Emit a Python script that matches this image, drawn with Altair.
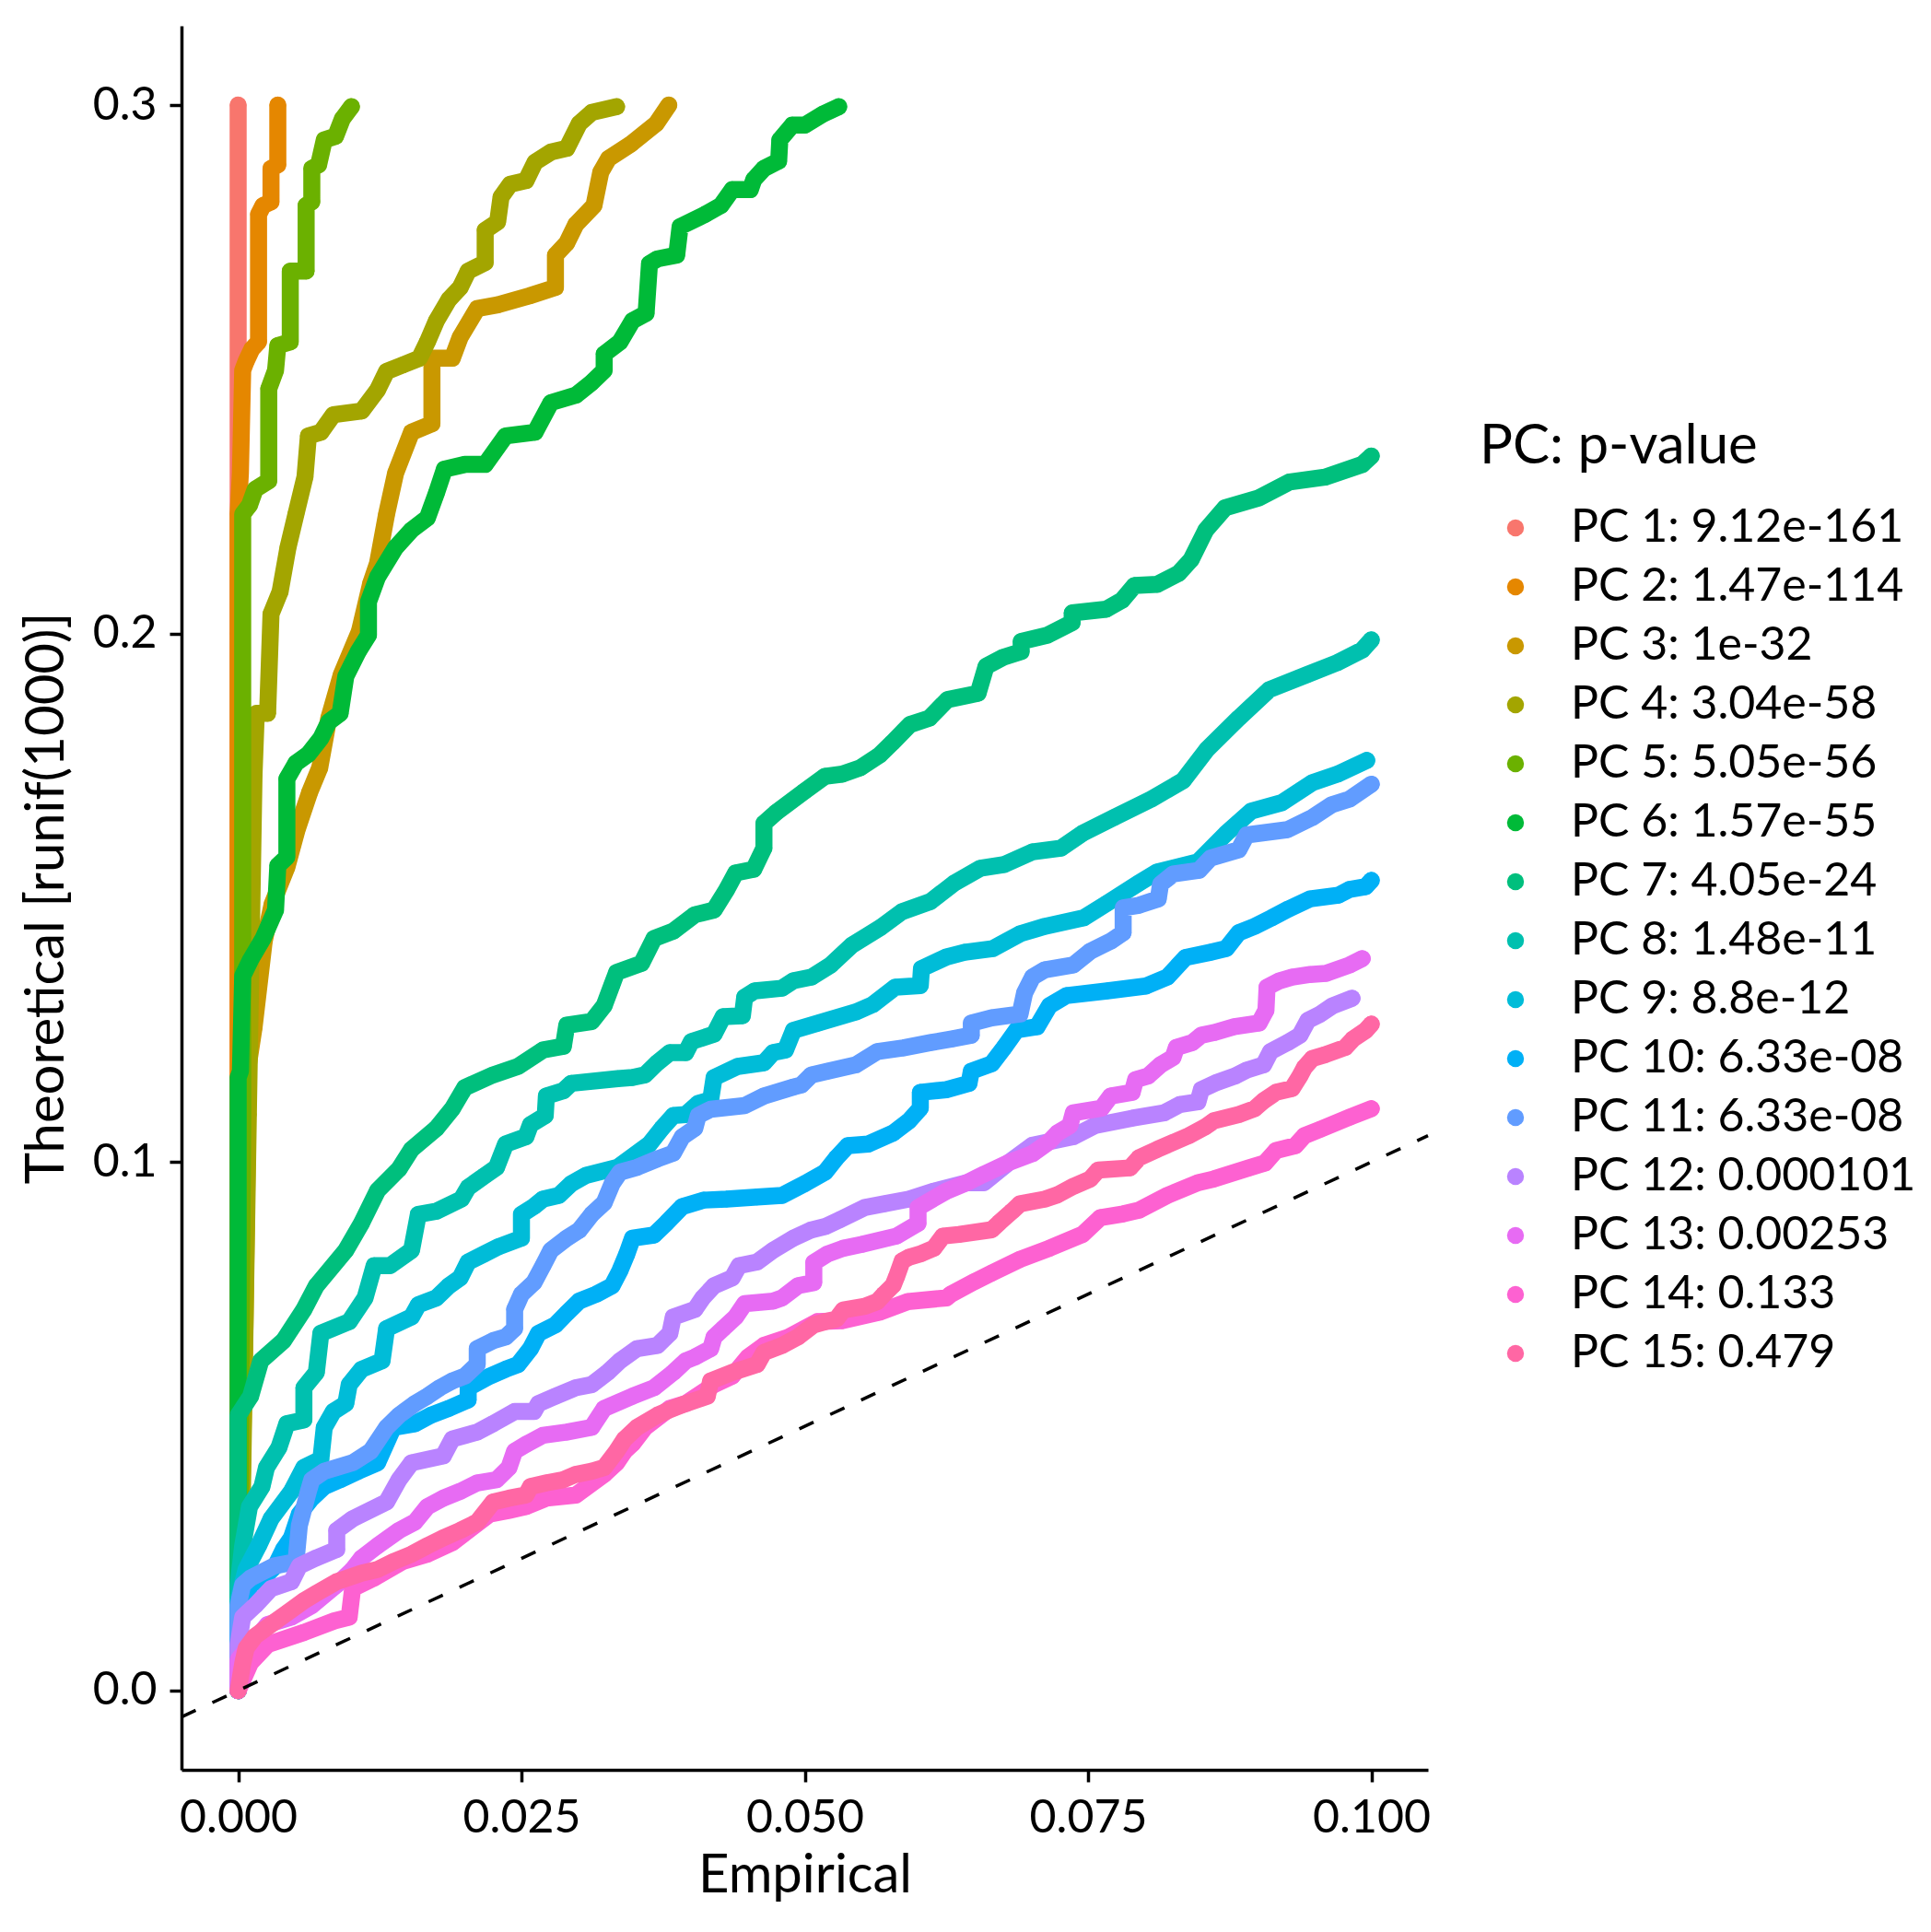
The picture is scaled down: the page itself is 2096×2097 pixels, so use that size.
import pandas as pd
import altair as alt

# legend entries and ggplot hue colours
pc_labels = [
    "PC 1: 9.12e-161", "PC 2: 1.47e-114", "PC 3: 1e-32", "PC 4: 3.04e-58",
    "PC 5: 5.05e-56", "PC 6: 1.57e-55", "PC 7: 4.05e-24", "PC 8: 1.48e-11",
    "PC 9: 8.8e-12", "PC 10: 6.33e-08", "PC 11: 6.33e-08", "PC 12: 0.000101",
    "PC 13: 0.00253", "PC 14: 0.133", "PC 15: 0.479",
]
pc_colors = [
    "#F8766D", "#E58700", "#C99800", "#A3A500", "#6BB100", "#00BA38", "#00BF7D",
    "#00C0AF", "#00BCD8", "#00B0F6", "#619CFF", "#B983FF", "#E76BF3", "#FD61D1",
    "#FF67A4",
]

x_ticks = [0.0, 0.025, 0.05, 0.075, 0.1]
y_ticks = [0.0, 0.1, 0.2, 0.3]
x_domain = [-0.005, 0.105]
y_domain = [-0.015, 0.315]

# (empirical, theoretical) pairs
pc1 = [(0.0, 0.0), (0.0, 0.1), (0.0, 0.2), (0.0, 0.3)]
pc2 = [(0.0, 0.0), (0.0, 0.2226), (0.0002, 0.2304), (0.0004, 0.2498), (0.0007, 0.2515),
       (0.0012, 0.2538), (0.0018, 0.2552), (0.0018, 0.2793), (0.0022, 0.2810),
       (0.0029, 0.2817), (0.0029, 0.2880), (0.0035, 0.2887), (0.0035, 0.3)]
pc3 = [(0.0, 0.0), (0.0006, 0.0692), (0.0009, 0.1184), (0.0014, 0.1254), (0.0023, 0.1418),
       (0.0030, 0.1488), (0.0043, 0.1558), (0.0052, 0.1629), (0.0063, 0.1699),
       (0.0072, 0.1746), (0.0080, 0.1840), (0.0091, 0.1922), (0.0107, 0.2004),
       (0.0117, 0.2095), (0.0123, 0.2133), (0.0131, 0.2226), (0.0139, 0.2304),
       (0.0153, 0.2381), (0.0171, 0.2397), (0.0171, 0.2521), (0.0189, 0.2521),
       (0.0196, 0.2561), (0.0211, 0.2615), (0.0229, 0.2622), (0.0257, 0.2639),
       (0.0280, 0.2655), (0.0280, 0.2716), (0.0290, 0.2739), (0.0298, 0.2774),
       (0.0314, 0.2810), (0.0320, 0.2873), (0.0327, 0.2899), (0.0347, 0.2927),
       (0.0369, 0.2965), (0.0380, 0.3)]
pc4 = [(0.0, 0.0), (0.0003, 0.0270), (0.0009, 0.1090), (0.0014, 0.1732), (0.0016, 0.1849),
       (0.0026, 0.1849), (0.0029, 0.2037), (0.0037, 0.2079), (0.0044, 0.2163),
       (0.0051, 0.2226), (0.0059, 0.2297), (0.0062, 0.2374), (0.0073, 0.2381),
       (0.0084, 0.2414), (0.0109, 0.2421), (0.0123, 0.2461), (0.0131, 0.2496),
       (0.0145, 0.2508), (0.0160, 0.2521), (0.0167, 0.2552), (0.0175, 0.2592),
       (0.0186, 0.2632), (0.0196, 0.2655), (0.0203, 0.2686), (0.0218, 0.2702),
       (0.0218, 0.2763), (0.0229, 0.2779), (0.0232, 0.2826), (0.0240, 0.2850),
       (0.0254, 0.2857), (0.0262, 0.2892), (0.0276, 0.2911), (0.0290, 0.2918),
       (0.0301, 0.2965), (0.0312, 0.2986), (0.0334, 0.2997)]
pc5 = [(0.0, 0.0), (0.0001, 0.0153), (0.0004, 0.1090), (0.0004, 0.2226), (0.0010, 0.2243),
       (0.0015, 0.2273), (0.0027, 0.2289), (0.0027, 0.2463), (0.0033, 0.2498),
       (0.0035, 0.2545), (0.0046, 0.2552), (0.0046, 0.2686), (0.0060, 0.2686),
       (0.0060, 0.2810), (0.0065, 0.2817), (0.0065, 0.2880), (0.0071, 0.2887),
       (0.0076, 0.2934), (0.0086, 0.2941), (0.0092, 0.2974), (0.0100, 0.2997)]
pc6 = [(0.0, 0.0), (0.0, 0.1160), (0.0002, 0.1172), (0.0004, 0.1352), (0.0011, 0.1383),
       (0.0022, 0.1423), (0.0033, 0.1477), (0.0035, 0.1561), (0.0043, 0.1577),
       (0.0043, 0.1725), (0.0051, 0.1755), (0.0062, 0.1772), (0.0073, 0.1802),
       (0.0080, 0.1833), (0.0090, 0.1849), (0.0095, 0.1919), (0.0106, 0.1966),
       (0.0115, 0.1997), (0.0115, 0.2060), (0.0123, 0.2107), (0.0139, 0.2163),
       (0.0153, 0.2196), (0.0167, 0.2219), (0.0175, 0.2266), (0.0182, 0.2311),
       (0.0200, 0.2320), (0.0218, 0.2320), (0.0236, 0.2374), (0.0262, 0.2381),
       (0.0276, 0.2437), (0.0298, 0.2451), (0.0312, 0.2475), (0.0323, 0.2498),
       (0.0323, 0.2529), (0.0337, 0.2552), (0.0348, 0.2592), (0.0360, 0.2606),
       (0.0363, 0.2700), (0.0370, 0.2709), (0.0387, 0.2716), (0.0390, 0.2770),
       (0.0412, 0.2793), (0.0426, 0.2810), (0.0436, 0.2840), (0.0452, 0.2840),
       (0.0455, 0.2859), (0.0464, 0.2880), (0.0477, 0.2894), (0.0478, 0.2934),
       (0.0489, 0.2962), (0.0500, 0.2962), (0.0516, 0.2983), (0.0530, 0.2997)]
pc7 = [(0.0, 0.0), (0.0, 0.0521), (0.0004, 0.0534), (0.0011, 0.0557), (0.0020, 0.0624),
       (0.0040, 0.0662), (0.0058, 0.0721), (0.0069, 0.0766), (0.0095, 0.0833),
       (0.0109, 0.0885), (0.0123, 0.0946), (0.0142, 0.0987), (0.0153, 0.1024),
       (0.0175, 0.1064), (0.0189, 0.1101), (0.0200, 0.1141), (0.0225, 0.1165),
       (0.0247, 0.1181), (0.0269, 0.1212), (0.0287, 0.1219), (0.0290, 0.1259),
       (0.0312, 0.1266), (0.0323, 0.1296), (0.0330, 0.1336), (0.0334, 0.1359),
       (0.0356, 0.1376), (0.0367, 0.1423), (0.0384, 0.1437), (0.0403, 0.1468),
       (0.0420, 0.1477), (0.0431, 0.1515), (0.0439, 0.1547), (0.0455, 0.1554),
       (0.0464, 0.1594), (0.0464, 0.1641), (0.0475, 0.1662), (0.0500, 0.1702),
       (0.0518, 0.1730), (0.0533, 0.1734), (0.0549, 0.1746), (0.0566, 0.1770),
       (0.0577, 0.1793), (0.0593, 0.1828), (0.0610, 0.1840), (0.0626, 0.1875),
       (0.0653, 0.1887), (0.0660, 0.1938), (0.0675, 0.1955), (0.0691, 0.1966),
       (0.0691, 0.1985), (0.0714, 0.1997), (0.0736, 0.2021), (0.0736, 0.2039),
       (0.0766, 0.2046), (0.0780, 0.2063), (0.0791, 0.2091), (0.0811, 0.2093),
       (0.0830, 0.2114), (0.0841, 0.2140), (0.0854, 0.2196), (0.0871, 0.2238),
       (0.0901, 0.2257), (0.0928, 0.2287), (0.0959, 0.2296), (0.0992, 0.2320),
       (0.1000, 0.2336)]
pc8 = [(0.0, 0.0), (0.0, 0.0200), (0.0004, 0.0274), (0.0010, 0.0348), (0.0021, 0.0386),
       (0.0025, 0.0422), (0.0036, 0.0460), (0.0043, 0.0505), (0.0058, 0.0512),
       (0.0058, 0.0573), (0.0069, 0.0602), (0.0073, 0.0676), (0.0098, 0.0698),
       (0.0112, 0.0743), (0.0120, 0.0804), (0.0134, 0.0804), (0.0153, 0.0833),
       (0.0159, 0.0901), (0.0175, 0.0907), (0.0197, 0.0930), (0.0203, 0.0952),
       (0.0218, 0.0975), (0.0228, 0.0990), (0.0236, 0.1034), (0.0254, 0.1048),
       (0.0258, 0.1071), (0.0271, 0.1088), (0.0272, 0.1125), (0.0287, 0.1135),
       (0.0294, 0.1149), (0.0335, 0.1158), (0.0348, 0.1160), (0.0359, 0.1165),
       (0.0370, 0.1188), (0.0381, 0.1207), (0.0395, 0.1207), (0.0400, 0.1228),
       (0.0420, 0.1242), (0.0428, 0.1275), (0.0445, 0.1277), (0.0447, 0.1312),
       (0.0456, 0.1324), (0.0480, 0.1329), (0.0490, 0.1343), (0.0506, 0.1350),
       (0.0523, 0.1373), (0.0542, 0.1411), (0.0567, 0.1444), (0.0586, 0.1474),
       (0.0611, 0.1493), (0.0632, 0.1528), (0.0655, 0.1556), (0.0676, 0.1563),
       (0.0701, 0.1587), (0.0726, 0.1594), (0.0745, 0.1622), (0.0773, 0.1652),
       (0.0806, 0.1687), (0.0834, 0.1722), (0.0855, 0.1781), (0.0883, 0.1840),
       (0.0910, 0.1894), (0.0943, 0.1922), (0.0970, 0.1945), (0.0992, 0.1969),
       (0.1000, 0.1988)]
pc9 = [(0.0, 0.0), (0.0, 0.0170), (0.0007, 0.0229), (0.0018, 0.0274), (0.0029, 0.0325),
       (0.0047, 0.0377), (0.0058, 0.0422), (0.0073, 0.0438), (0.0076, 0.0498),
       (0.0084, 0.0528), (0.0095, 0.0543), (0.0098, 0.0579), (0.0109, 0.0608),
       (0.0127, 0.0624), (0.0131, 0.0685), (0.0153, 0.0707), (0.0159, 0.0730),
       (0.0175, 0.0743), (0.0186, 0.0766), (0.0196, 0.0781), (0.0203, 0.0811),
       (0.0217, 0.0826), (0.0230, 0.0840), (0.0250, 0.0856), (0.0250, 0.0901),
       (0.0261, 0.0916), (0.0269, 0.0930), (0.0283, 0.0937), (0.0294, 0.0959),
       (0.0307, 0.0975), (0.0335, 0.0990), (0.0363, 0.1034), (0.0374, 0.1064),
       (0.0384, 0.1088), (0.0395, 0.1090), (0.0406, 0.1111), (0.0417, 0.1118),
       (0.0420, 0.1160), (0.0441, 0.1181), (0.0464, 0.1188), (0.0472, 0.1207),
       (0.0483, 0.1212), (0.0490, 0.1249), (0.0512, 0.1263), (0.0545, 0.1284),
       (0.0560, 0.1298), (0.0580, 0.1331), (0.0602, 0.1334), (0.0603, 0.1366),
       (0.0625, 0.1388), (0.0641, 0.1397), (0.0666, 0.1404), (0.0690, 0.1432),
       (0.0712, 0.1446), (0.0746, 0.1462), (0.0767, 0.1490), (0.0795, 0.1528),
       (0.0811, 0.1549), (0.0847, 0.1568), (0.0872, 0.1622), (0.0894, 0.1664),
       (0.0921, 0.1680), (0.0948, 0.1718), (0.0970, 0.1734), (0.0996, 0.1760)]
pc10 = [(0.0, 0.0), (0.0, 0.0125), (0.0004, 0.0161), (0.0011, 0.0200), (0.0022, 0.0213),
        (0.0033, 0.0236), (0.0040, 0.0267), (0.0047, 0.0289), (0.0054, 0.0334),
        (0.0065, 0.0364), (0.0076, 0.0386), (0.0090, 0.0399), (0.0106, 0.0415),
        (0.0123, 0.0431), (0.0137, 0.0498), (0.0156, 0.0505), (0.0170, 0.0521),
        (0.0186, 0.0534), (0.0203, 0.0550), (0.0203, 0.0573), (0.0222, 0.0595),
        (0.0236, 0.0608), (0.0247, 0.0617), (0.0258, 0.0647), (0.0265, 0.0676),
        (0.0280, 0.0692), (0.0290, 0.0714), (0.0301, 0.0737), (0.0316, 0.0750),
        (0.0330, 0.0766), (0.0337, 0.0795), (0.0343, 0.0826), (0.0348, 0.0856),
        (0.0367, 0.0862), (0.0378, 0.0885), (0.0392, 0.0916), (0.0411, 0.0928),
        (0.0431, 0.0930), (0.0458, 0.0934), (0.0480, 0.0937), (0.0500, 0.0959),
        (0.0518, 0.0981), (0.0528, 0.1008), (0.0538, 0.1031), (0.0556, 0.1034),
        (0.0578, 0.1055), (0.0592, 0.1078), (0.0602, 0.1102), (0.0602, 0.1132),
        (0.0625, 0.1137), (0.0645, 0.1149), (0.0647, 0.1172), (0.0665, 0.1186),
        (0.0676, 0.1217), (0.0687, 0.1250), (0.0705, 0.1256), (0.0716, 0.1296),
        (0.0731, 0.1315), (0.0767, 0.1324), (0.0801, 0.1333), (0.0820, 0.1350),
        (0.0836, 0.1387), (0.0858, 0.1397), (0.0872, 0.1404), (0.0883, 0.1434),
        (0.0897, 0.1446), (0.0912, 0.1462), (0.0927, 0.1479), (0.0946, 0.1498),
        (0.0971, 0.1505), (0.0981, 0.1516), (0.0995, 0.1521), (0.1000, 0.1533)]
pc11 = [(0.0, 0.0), (0.0, 0.0161), (0.0004, 0.0200), (0.0011, 0.0213), (0.0032, 0.0236),
        (0.0051, 0.0244), (0.0054, 0.0312), (0.0062, 0.0377), (0.0065, 0.0399),
        (0.0076, 0.0415), (0.0101, 0.0431), (0.0117, 0.0453), (0.0131, 0.0498),
        (0.0142, 0.0521), (0.0156, 0.0543), (0.0167, 0.0557), (0.0178, 0.0573),
        (0.0189, 0.0586), (0.0200, 0.0595), (0.0211, 0.0617), (0.0211, 0.0647),
        (0.0225, 0.0662), (0.0236, 0.0669), (0.0244, 0.0685), (0.0244, 0.0721),
        (0.0250, 0.0750), (0.0261, 0.0772), (0.0269, 0.0804), (0.0276, 0.0833),
        (0.0290, 0.0856), (0.0301, 0.0871), (0.0312, 0.0901), (0.0323, 0.0923),
        (0.0330, 0.0959), (0.0337, 0.0981), (0.0352, 0.0990), (0.0370, 0.1006),
        (0.0384, 0.1017), (0.0392, 0.1048), (0.0403, 0.1064), (0.0406, 0.1088),
        (0.0417, 0.1100), (0.0447, 0.1107), (0.0464, 0.1125), (0.0490, 0.1142),
        (0.0497, 0.1146), (0.0506, 0.1165), (0.0520, 0.1172), (0.0545, 0.1184),
        (0.0564, 0.1209), (0.0587, 0.1216), (0.0611, 0.1226), (0.0630, 0.1233),
        (0.0647, 0.1240), (0.0647, 0.1263), (0.0665, 0.1273), (0.0690, 0.1280),
        (0.0694, 0.1320), (0.0701, 0.1350), (0.0712, 0.1364), (0.0737, 0.1373),
        (0.0752, 0.1399), (0.0770, 0.1418), (0.0781, 0.1434), (0.0781, 0.1481),
        (0.0795, 0.1486), (0.0812, 0.1498), (0.0814, 0.1526), (0.0825, 0.1545),
        (0.0848, 0.1552), (0.0858, 0.1575), (0.0883, 0.1591), (0.0890, 0.1619),
        (0.0926, 0.1629), (0.0948, 0.1652), (0.0965, 0.1676), (0.0981, 0.1687),
        (0.1000, 0.1715)]
pc12 = [(0.0, 0.0), (0.0, 0.0087), (0.0004, 0.0139), (0.0015, 0.0161), (0.0029, 0.0193),
        (0.0047, 0.0206), (0.0054, 0.0236), (0.0069, 0.0251), (0.0087, 0.0267),
        (0.0087, 0.0303), (0.0101, 0.0325), (0.0131, 0.0357), (0.0142, 0.0399),
        (0.0153, 0.0431), (0.0181, 0.0444), (0.0189, 0.0476), (0.0211, 0.0489),
        (0.0225, 0.0505), (0.0244, 0.0528), (0.0261, 0.0528), (0.0265, 0.0543),
        (0.0280, 0.0557), (0.0298, 0.0573), (0.0312, 0.0579), (0.0326, 0.0602),
        (0.0337, 0.0624), (0.0352, 0.0647), (0.0370, 0.0653), (0.0381, 0.0676),
        (0.0384, 0.0707), (0.0403, 0.0721), (0.0410, 0.0743), (0.0420, 0.0766),
        (0.0436, 0.0781), (0.0442, 0.0804), (0.0458, 0.0811), (0.0472, 0.0833),
        (0.0490, 0.0856), (0.0505, 0.0871), (0.0518, 0.0878), (0.0531, 0.0891),
        (0.0553, 0.0914), (0.0570, 0.0921), (0.0592, 0.0930), (0.0614, 0.0945),
        (0.0643, 0.0961), (0.0658, 0.0961), (0.0680, 0.0999), (0.0701, 0.1032),
        (0.0737, 0.1048), (0.0756, 0.1069), (0.0789, 0.1083), (0.0817, 0.1093),
        (0.0831, 0.1109), (0.0847, 0.1114), (0.0850, 0.1137), (0.0864, 0.1151),
        (0.0880, 0.1163), (0.0890, 0.1174), (0.0905, 0.1184), (0.0911, 0.1209),
        (0.0926, 0.1226), (0.0937, 0.1240), (0.0944, 0.1268), (0.0955, 0.1280),
        (0.0966, 0.1296), (0.0983, 0.1310)]
pc13 = [(0.0, 0.0), (0.0, 0.0058), (0.0011, 0.0087), (0.0026, 0.0125), (0.0047, 0.0139),
        (0.0065, 0.0161), (0.0087, 0.0200), (0.0101, 0.0229), (0.0109, 0.0251),
        (0.0123, 0.0274), (0.0142, 0.0303), (0.0156, 0.0319), (0.0167, 0.0348),
        (0.0181, 0.0364), (0.0196, 0.0377), (0.0211, 0.0393), (0.0228, 0.0399),
        (0.0239, 0.0422), (0.0244, 0.0453), (0.0255, 0.0467), (0.0269, 0.0483),
        (0.0290, 0.0489), (0.0312, 0.0498), (0.0323, 0.0534), (0.0348, 0.0557),
        (0.0367, 0.0573), (0.0384, 0.0602), (0.0395, 0.0624), (0.0403, 0.0631),
        (0.0417, 0.0647), (0.0420, 0.0669), (0.0428, 0.0685), (0.0439, 0.0707),
        (0.0447, 0.0732), (0.0472, 0.0737), (0.0480, 0.0743), (0.0494, 0.0766),
        (0.0508, 0.0772), (0.0508, 0.0810), (0.0520, 0.0826), (0.0534, 0.0837),
        (0.0550, 0.0844), (0.0581, 0.0860), (0.0600, 0.0884), (0.0600, 0.0914),
        (0.0625, 0.0945), (0.0643, 0.0961), (0.0658, 0.0977), (0.0680, 0.0999),
        (0.0701, 0.1016), (0.0716, 0.1039), (0.0723, 0.1055), (0.0734, 0.1069),
        (0.0737, 0.1093), (0.0762, 0.1102), (0.0770, 0.1125), (0.0789, 0.1132),
        (0.0792, 0.1156), (0.0803, 0.1163), (0.0814, 0.1184), (0.0825, 0.1198),
        (0.0828, 0.1217), (0.0842, 0.1226), (0.0850, 0.1240), (0.0861, 0.1245),
        (0.0879, 0.1256), (0.0901, 0.1263), (0.0907, 0.1287), (0.0908, 0.1331),
        (0.0919, 0.1343), (0.0930, 0.1350), (0.0946, 0.1355), (0.0960, 0.1357),
        (0.0981, 0.1373), (0.0992, 0.1385)]
pc14 = [(0.0, 0.0), (0.0011, 0.0053), (0.0026, 0.0087), (0.0058, 0.0110), (0.0085, 0.0132),
        (0.0098, 0.0139), (0.0101, 0.0193), (0.0120, 0.0213), (0.0145, 0.0244),
        (0.0167, 0.0258), (0.0189, 0.0280), (0.0203, 0.0303), (0.0222, 0.0334),
        (0.0239, 0.0341), (0.0254, 0.0348), (0.0272, 0.0364), (0.0298, 0.0370),
        (0.0323, 0.0409), (0.0334, 0.0431), (0.0341, 0.0453), (0.0348, 0.0467),
        (0.0359, 0.0498), (0.0381, 0.0534), (0.0395, 0.0543), (0.0420, 0.0579),
        (0.0436, 0.0595), (0.0450, 0.0631), (0.0464, 0.0653), (0.0486, 0.0669),
        (0.0511, 0.0698), (0.0533, 0.0700), (0.0566, 0.0716), (0.0591, 0.0736),
        (0.0625, 0.0743), (0.0629, 0.0750), (0.0650, 0.0774), (0.0665, 0.0790),
        (0.0690, 0.0816), (0.0716, 0.0837), (0.0745, 0.0863), (0.0761, 0.0895),
        (0.0781, 0.0902), (0.0795, 0.0909), (0.0820, 0.0937), (0.0847, 0.0961),
        (0.0861, 0.0968), (0.0892, 0.0989), (0.0906, 0.0998), (0.0916, 0.1022),
        (0.0933, 0.1031), (0.0941, 0.1050), (0.0955, 0.1062), (0.0981, 0.1085),
        (0.1000, 0.1101)]
pc15 = [(0.0, 0.0), (0.0004, 0.0051), (0.0007, 0.0080), (0.0015, 0.0103), (0.0029, 0.0125),
        (0.0044, 0.0148), (0.0058, 0.0170), (0.0069, 0.0184), (0.0087, 0.0206),
        (0.0109, 0.0222), (0.0123, 0.0229), (0.0137, 0.0244), (0.0153, 0.0258),
        (0.0167, 0.0274), (0.0181, 0.0289), (0.0196, 0.0303), (0.0211, 0.0319),
        (0.0225, 0.0357), (0.0239, 0.0364), (0.0254, 0.0370), (0.0258, 0.0386),
        (0.0272, 0.0393), (0.0287, 0.0399), (0.0298, 0.0409), (0.0312, 0.0415),
        (0.0323, 0.0422), (0.0334, 0.0453), (0.0341, 0.0476), (0.0352, 0.0498),
        (0.0370, 0.0521), (0.0384, 0.0534), (0.0395, 0.0543), (0.0414, 0.0557),
        (0.0417, 0.0586), (0.0436, 0.0602), (0.0458, 0.0617), (0.0464, 0.0640),
        (0.0480, 0.0653), (0.0494, 0.0669), (0.0508, 0.0692), (0.0518, 0.0698),
        (0.0528, 0.0703), (0.0534, 0.0720), (0.0553, 0.0727), (0.0564, 0.0736),
        (0.0570, 0.0750), (0.0578, 0.0767), (0.0581, 0.0783), (0.0586, 0.0813),
        (0.0592, 0.0820), (0.0603, 0.0827), (0.0614, 0.0837), (0.0622, 0.0860),
        (0.0636, 0.0863), (0.0665, 0.0872), (0.0672, 0.0886), (0.0683, 0.0907),
        (0.0690, 0.0921), (0.0712, 0.0930), (0.0723, 0.0938), (0.0737, 0.0954),
        (0.0752, 0.0968), (0.0759, 0.0985), (0.0787, 0.0989), (0.0795, 0.1008),
        (0.0811, 0.1024), (0.0839, 0.1050), (0.0853, 0.1066), (0.0861, 0.1078),
        (0.0883, 0.1090), (0.0897, 0.1101), (0.0905, 0.1116), (0.0916, 0.1132),
        (0.0930, 0.1139), (0.0937, 0.1163), (0.0941, 0.1179), (0.0948, 0.1196),
        (0.0959, 0.1203), (0.0977, 0.1217), (0.0984, 0.1233), (0.0995, 0.1249),
        (0.1000, 0.1261)]

series = [pc1, pc2, pc3, pc4, pc5, pc6, pc7, pc8, pc9, pc10, pc11, pc12, pc13, pc14, pc15]

rows = []
for label, pts in zip(pc_labels, series):
    for i, (emp, theo) in enumerate(pts):
        rows.append({"pc": label, "i": i, "emp": emp, "theo": theo})
df = pd.DataFrame(rows)

# y = x reference line across the panel
diag = pd.DataFrame({"emp": x_domain, "theo": x_domain})

x_enc = alt.X("emp:Q", title="Empirical",
              scale=alt.Scale(domain=x_domain, nice=False, zero=False),
              axis=alt.Axis(values=x_ticks, format=".3f", titlePadding=9))
y_enc = alt.Y("theo:Q", title="Theoretical [runif(1000)]",
              scale=alt.Scale(domain=y_domain, nice=False, zero=False),
              axis=alt.Axis(values=y_ticks, format=".1f", titlePadding=20))

legend = alt.Legend(
    title="PC: p-value", orient="none", legendX=1409, legendY=428, padding=0,
    titleFont="Lato", titleFontSize=60, titleFontWeight="normal", titleColor="black",
    titlePadding=32, titleLimit=800, labelFont="Lato", labelFontSize=50,
    labelColor="black", labelLimit=800, symbolType="circle", symbolSize=340,
    symbolStrokeWidth=0, symbolOffset=14, labelOffset=35, rowPadding=14,
)

dots = alt.Chart(df).mark_circle(size=324, opacity=1).encode(
    x=x_enc, y=y_enc,
    fill=alt.Fill("pc:N", scale=alt.Scale(domain=pc_labels, range=pc_colors), legend=legend),
)

lines = alt.Chart(df).mark_line(strokeWidth=18.5, strokeCap="round", strokeJoin="round").encode(
    x=x_enc, y=y_enc,
    color=alt.Color("pc:N", scale=alt.Scale(domain=pc_labels, range=pc_colors), legend=None),
    order=alt.Order("i:Q"),
)

ref = alt.Chart(diag).mark_line(color="black", strokeWidth=3.5, strokeDash=[17, 20]).encode(
    x=x_enc, y=y_enc,
)

chart = alt.layer(dots, lines, ref).properties(
    width=1353, height=1893,
    padding={"left": 189, "top": 20, "right": 538, "bottom": 167},
    autosize=alt.AutoSizeParams(type="none"),
).configure_view(
    strokeWidth=0
).configure_axis(
    grid=False, domainColor="black", domainWidth=3.5, tickColor="black", tickWidth=3.5,
    tickSize=13, labelFont="Lato", labelFontSize=50, labelColor="black", labelPadding=14,
    labelFlush=False, titleFont="Lato", titleFontSize=58, titleFontWeight="normal",
    titleColor="black",
)

chart.save("out.html", embed_options={"renderer": "svg", "actions": False})
